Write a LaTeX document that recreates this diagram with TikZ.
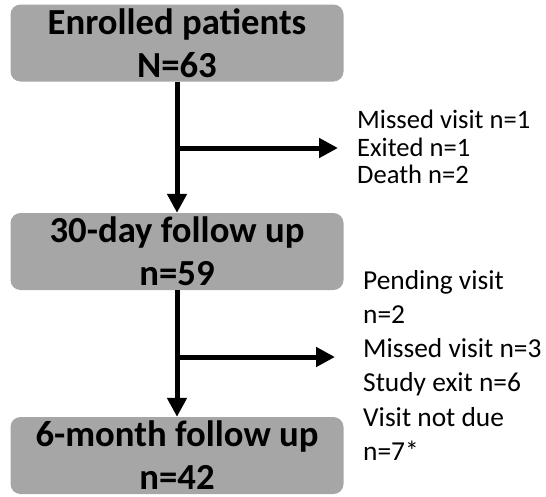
\documentclass[tikz,border=0pt]{standalone}
\usepackage{fontspec}
\setmainfont{Carlito}
\usetikzlibrary{arrows.meta}
\definecolor{boxgray}{RGB}{166,166,166}
\tikzset{
    stage/.style={fill=boxgray, rounded corners=10pt, minimum width=333pt,
        minimum height=77pt, inner sep=0pt, align=center,
        font=\fontsize{36.7}{43}\selectfont\bfseries},
    flow/.style={line width=5pt, -{Triangle[length=19pt,width=19pt]}},
    note/.style={anchor=north west, inner sep=0pt, align=left}
}

\begin{document}
\begin{tikzpicture}[x=1pt, y=-1pt]
        \useasboundingbox (0,0) rectangle (546,496);
        % stages
        \node[stage] (enrolled) at (177,43) {Enrolled patients\\N=63};
        \node[stage] (day30) at (177,251.5) {30-day follow up\\n=59};
        \node[stage] (month6) at (177,455.5) {6-month follow up\\n=42};
        % losses
        \node[note, font=\fontsize{26.6}{27.5}\selectfont] (lost1) at (357,110)
            {Missed visit n=1\\Exited n=1\\Death n=2};
        \node[note, font=\fontsize{27.4}{34.2}\selectfont] (lost2) at (363,270)
            {Pending visit\\n=2\\Missed visit n=3\\Study exit n=6\\Visit not due\\n=7*};
        \coordinate (br1) at (177,148);
        \coordinate (end1) at (338,148);
        \coordinate (br2) at (177,357);
        \coordinate (end2) at (335,357);
        % arrows
        \draw[flow] (enrolled.south) -- (day30.north);
        \draw[flow] (day30.south) -- (month6.north);
        \draw[flow] (br1) -- (end1);
        \draw[flow] (br2) -- (end2);
    \end{tikzpicture}
\end{document}
